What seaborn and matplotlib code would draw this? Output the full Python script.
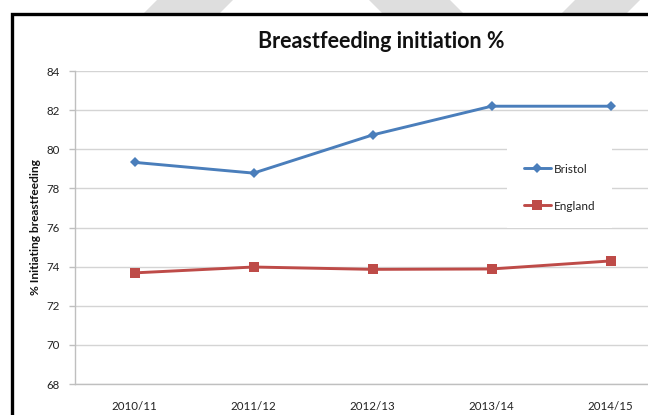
import matplotlib
matplotlib.use("Agg")
import matplotlib.pyplot as plt
from matplotlib.patches import Rectangle, Polygon
import pandas as pd
import seaborn as sns

# Breastfeeding initiation rates by year
seasons = ["2010/11", "2011/12", "2012/13", "2013/14", "2014/15"]
bristol = [79.33, 78.78, 80.73, 82.2, 82.2]
england = [73.68, 73.98, 73.86, 73.88, 74.29]
y_ticks = [68, 70, 72, 74, 76, 78, 80, 82, 84]

df = pd.DataFrame({
    "season": seasons * 2,
    "value": bristol + england,
    "area": ["Bristol"] * len(seasons) + ["England"] * len(seasons),
})

sns.set_theme(style="white")
plt.rcParams["font.family"] = ["Lato", "DejaVu Sans"]

W, H = 648, 415
fig = plt.figure(figsize=(W / 100, H / 100), dpi=100)
fig.patch.set_facecolor("white")


def fx(px):
    return px / W


def fy(py):
    return 1 - py / H


# light grey diagonal bands in the page background
bands = [
    [(157, 0), (233, 0), (203, 30), (127, 30)],
    [(369, 0), (450, 0), (480, 30), (399, 30)],
    [(575, 0), (640, 0), (610, 30), (545, 30)],
]
for pts in bands:
    fig.patches.append(Polygon([(fx(x), fy(y)) for x, y in pts], closed=True,
                               transform=fig.transFigure, facecolor="#dedede",
                               edgecolor="none", zorder=0))

# chart frame: white panel with a heavy black border
fig.patches.append(Rectangle((fx(12), fy(460)), fx(700), fy(14) - fy(460),
                             transform=fig.transFigure, facecolor="white",
                             edgecolor="#000000", linewidth=2.4, zorder=1))

ax_left, ax_right, ax_top, ax_bottom = 75, 670, 71, 384
ax = fig.add_axes([fx(ax_left), fy(ax_bottom), fx(ax_right - ax_left),
                   (ax_bottom - ax_top) / H])
ax.set_zorder(2)
ax.patch.set_alpha(0)

palette = {"Bristol": "#4a7ebb", "England": "#be4b48"}
sns.lineplot(data=df, x="season", y="value", hue="area", style="area",
             markers={"Bristol": "D", "England": "s"}, dashes=False,
             palette=palette, linewidth=2.1, markersize=6.8,
             markeredgewidth=0, ax=ax, sort=False)
for ln in ax.get_lines():
    if ln.get_marker() == "D":
        ln.set_markersize(5.4)

ax.set_xlim(-0.5, len(seasons) - 0.5)
ax.set_ylim(68, 84)
ax.set_yticks(y_ticks)
ax.set_yticklabels([str(t) for t in y_ticks])
ax.grid(axis="y", color="#d4d4d4", linewidth=1.0)
ax.grid(axis="x", visible=False)
ax.set_axisbelow(True)
for side in ["top", "right"]:
    ax.spines[side].set_visible(False)
for side in ["left", "bottom"]:
    ax.spines[side].set_color("#bfbfbf")
    ax.spines[side].set_linewidth(1.0)

ax.tick_params(axis="y", which="major", left=True, length=4, width=1,
               color="#bfbfbf", pad=7, labelsize=8.3, labelcolor="#222222")
ax.tick_params(axis="x", which="major", bottom=False, length=0, pad=12,
               labelsize=8.3, labelcolor="#222222")
ax.set_xlabel("")
ax.set_ylabel("% Initiating breastfeeding", fontsize=8.6, fontweight="bold",
              color="#111111", labelpad=4)

fig.text(fx(381), fy(42), "Breastfeeding initiation %", ha="center",
         va="center", fontsize=15.5, fontweight="bold", color="#111111",
         zorder=3)

leg = ax.legend(loc="upper left", bbox_to_anchor=(fx(507), fy(147)),
                bbox_transform=fig.transFigure, frameon=True, fancybox=False,
                edgecolor="none", facecolor="white", framealpha=1,
                fontsize=8.5, handlelength=2.3, handletextpad=0.25,
                labelspacing=2.2, borderpad=1.4, borderaxespad=0)
for t in leg.get_texts():
    t.set_color("#222222")

fig.savefig("out.png", dpi=100)
